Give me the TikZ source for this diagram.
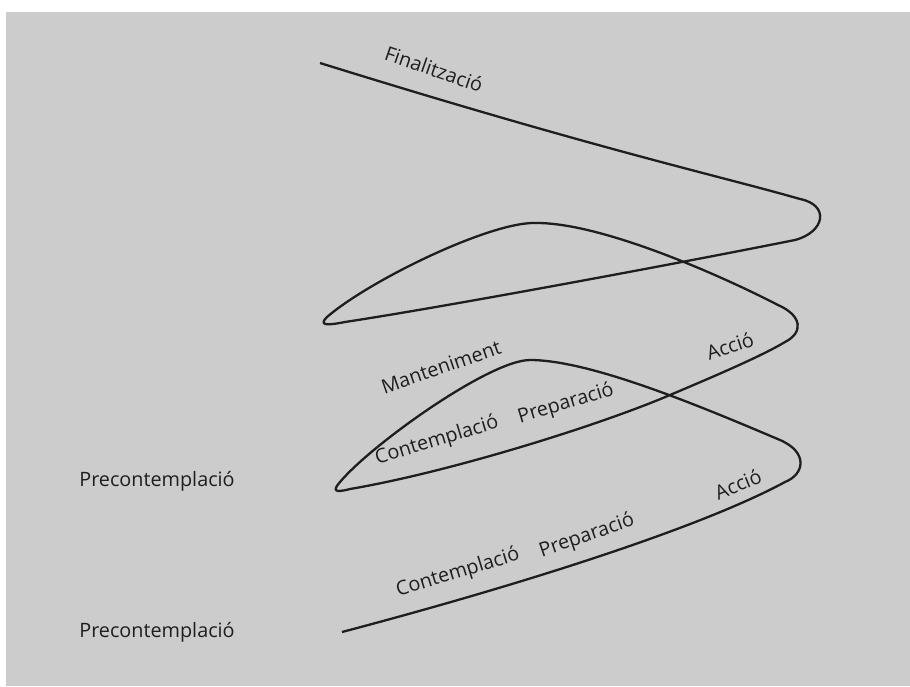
\documentclass[tikz,border=0pt]{standalone}
\usepackage{fontspec}
\setmainfont{Open Sans}
\usepackage{tikz}
\usetikzlibrary{positioning}

\definecolor{panel}{HTML}{CCCCCC}
\definecolor{ink}{HTML}{1E1E1E}

\begin{document}
\begin{tikzpicture}[x=1pt,y=-1pt,
		stage/.style={inner sep=0pt, text=ink, font=\fontsize{19.8}{21}\selectfont},
		coil/.style={draw=ink, line width=2.3pt, line join=round}]
		\useasboundingbox (0,0) rectangle (910,686);
		\fill[white] (0,0) rectangle (910,686);
		\fill[panel] (6,12) rectangle (910,686);

		% the spiral, from the bottom up
		\draw[coil] (342,632) .. controls (520,585) and (700,528) .. (785,482)
			.. controls (805,474) and (808,452) .. (780,440)
			.. controls (700,406) and (590,360) .. (530,360)
			.. controls (490,360) and (372,444) .. (340,482)
			.. controls (332,491) and (335,493) .. (350,489)
			.. controls (450,472) and (600,425) .. (670,395)
			.. controls (710,378) and (760,357) .. (785,342)
			.. controls (803,333) and (803,316) .. (778,305)
			.. controls (720,275) and (600,222) .. (535,223)
			.. controls (490,222) and (370,280) .. (327,317)
			.. controls (319,325) and (325,326) .. (345,322)
			.. controls (450,306) and (680,263) .. (795,240)
			.. controls (825,232) and (830,205) .. (800,199)
			.. controls (720,176) and (600,150) .. (320,63);

		\node[stage, rotate=-19] (fin) at (434,69) {Finalització};
		\node[stage, rotate=19] (man) at (441,367) {Manteniment};
		\node[stage, rotate=17] (con2) at (437,441) {Contemplació};
		\node[stage, rotate=17] (pre2) at (566,404) {Preparació};
		\node[stage, rotate=18] (acc2) at (730,346) {Acció};
		\node[stage, rotate=17] (con1) at (458,573) {Contemplació};
		\node[stage, rotate=19] (pre1) at (587,536) {Preparació};
		\node[stage, rotate=22] (acc1) at (738,484) {Acció};
		\node[stage] (prc2) at (157,481) {Precontemplació};
		\node[stage] (prc1) at (157,632) {Precontemplació};
	\end{tikzpicture}
\end{document}
